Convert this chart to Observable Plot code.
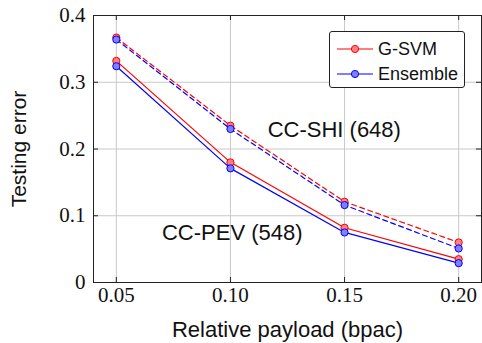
<!DOCTYPE html>
<html>
<head>
<meta charset="utf-8">
<script src="https://cdn.jsdelivr.net/npm/d3@7"></script>
<script src="https://cdn.jsdelivr.net/npm/@observablehq/plot@0.6"></script>
<style>
  html, body { margin: 0; padding: 0; background: #fff; }
  #wrap { position: relative; width: 482px; height: 343px; overflow: hidden; }
  #legend { position: absolute; left: 329px; top: 31px; width: 136px; height: 57px;
    border: 1px solid #222; border-radius: 3px; background: #fff; box-sizing: border-box;
    font-family: "Liberation Sans", Arial, sans-serif; font-size: 18px; color: #111; }
  .row { position: absolute; left: 0; height: 20px; display: flex; align-items: center; }
  .row svg { margin-left: 7px; }
  .row span { margin-left: 5px; }
</style>
</head>
<body>
<div id="wrap"></div>
<script>
const payloads = [0.05, 0.10, 0.15, 0.20];
const methods = ["G-SVM", "Ensemble"];
const datasets = ["CC-PEV (548)", "CC-SHI (648)"];
const pevGSVM = [0.332, 0.180, 0.082, 0.035];
const pevEnsemble = [0.324, 0.171, 0.075, 0.029];
const shiGSVM = [0.367, 0.235, 0.121, 0.060];
const shiEnsemble = [0.364, 0.230, 0.116, 0.051];
const xTicks = [0.05, 0.10, 0.15, 0.20];
const yTicks = [0, 0.1, 0.2, 0.3, 0.4];
const annotations = [
  {label: "CC-SHI (648)", x: 0.1455, y: 0.228},
  {label: "CC-PEV (548)", x: 0.1008, y: 0.0745}
];
const colors = {"G-SVM": "#ff0000", "Ensemble": "#0000ff"};
const fills = {"G-SVM": "#ff8080", "Ensemble": "#8080ff"};

const series = [
  {method: "G-SVM", dataset: datasets[0], values: pevGSVM},
  {method: "Ensemble", dataset: datasets[0], values: pevEnsemble},
  {method: "G-SVM", dataset: datasets[1], values: shiGSVM},
  {method: "Ensemble", dataset: datasets[1], values: shiEnsemble}
];
const rows = series.flatMap(s => s.values.map((v, i) => ({x: payloads[i], y: v, method: s.method, dataset: s.dataset})));

const W = 482, H = 343, ML = 93, MR = 1, MT = 15, MB = 61;
const FW = W - ML - MR, FH = H - MT - MB;
const serif = "'Liberation Serif', 'DejaVu Serif', serif";
const sans = "'Liberation Sans', Arial, sans-serif";

const marks = [
  Plot.gridX(xTicks, {stroke: "#c8c8c8", strokeOpacity: 1}),
  Plot.gridY(yTicks, {stroke: "#c8c8c8", strokeOpacity: 1}),
  Plot.tickY(yTicks, {y: d => d, insetRight: FW - 5, stroke: "#222"}),
  Plot.tickY(yTicks, {y: d => d, insetLeft: FW - 5, stroke: "#222"}),
  Plot.tickX(xTicks, {x: d => d, insetTop: FH - 5, stroke: "#222"}),
  Plot.tickX(xTicks, {x: d => d, insetBottom: FH - 5, stroke: "#222"}),
  Plot.axisX(xTicks, {tickSize: 0, tickPadding: 5, tickFormat: d3.format(".2f"), fontSize: 21, fontFamily: serif, fill: "#111", label: null}),
  Plot.axisY(yTicks, {tickSize: 0, tickPadding: 8, tickFormat: d => d === 0 ? "0" : d3.format(".1f")(d), fontSize: 21, fontFamily: serif, fill: "#111", label: null}),
  Plot.frame({stroke: "#222"})
];
for (const s of series) {
  const d = rows.filter(r => r.method === s.method && r.dataset === s.dataset);
  const dashed = s.dataset === datasets[1];
  marks.push(Plot.line(d, {x: "x", y: "y", stroke: colors[s.method], strokeWidth: 1.2, strokeDasharray: dashed ? "5,3.5" : null}));
  marks.push(Plot.dot(d, {x: "x", y: "y", r: 3.6, stroke: colors[s.method], strokeWidth: 1, fill: fills[s.method]}));
}
marks.push(Plot.text(annotations, {x: "x", y: "y", text: "label", fontSize: 22, fontFamily: sans, fill: "#111", lineAnchor: "middle"}));
marks.push(Plot.text(["Relative payload (bpac)"], {frameAnchor: "bottom", lineAnchor: "middle", dy: 47, fontSize: 22, fontFamily: sans, fill: "#111"}));
marks.push(Plot.text(["Testing error"], {frameAnchor: "left", textAnchor: "middle", lineAnchor: "middle", dx: -74, rotate: -90, fontSize: 21, fontFamily: sans, fill: "#111"}));

const chart = Plot.plot({
  width: W, height: H,
  marginLeft: ML, marginRight: MR, marginTop: MT, marginBottom: MB,
  x: {domain: [0.04, 0.21]},
  y: {domain: [0, 0.4]},
  style: {background: "#fff", overflow: "visible"},
  marks
});
const wrap = document.getElementById("wrap");
wrap.appendChild(chart);

const legend = document.createElement("div");
legend.id = "legend";
methods.forEach((m, i) => {
  const row = document.createElement("div");
  row.className = "row";
  row.style.top = (7 + i * 25) + "px";
  row.innerHTML = `<svg width="36" height="10"><line x1="0" y1="5" x2="36" y2="5" stroke="${colors[m]}" stroke-width="1.2"/><circle cx="18" cy="5" r="3.6" fill="${fills[m]}" stroke="${colors[m]}"/></svg><span>${m}</span>`;
  legend.appendChild(row);
});
wrap.appendChild(legend);
</script>
</body>
</html>
